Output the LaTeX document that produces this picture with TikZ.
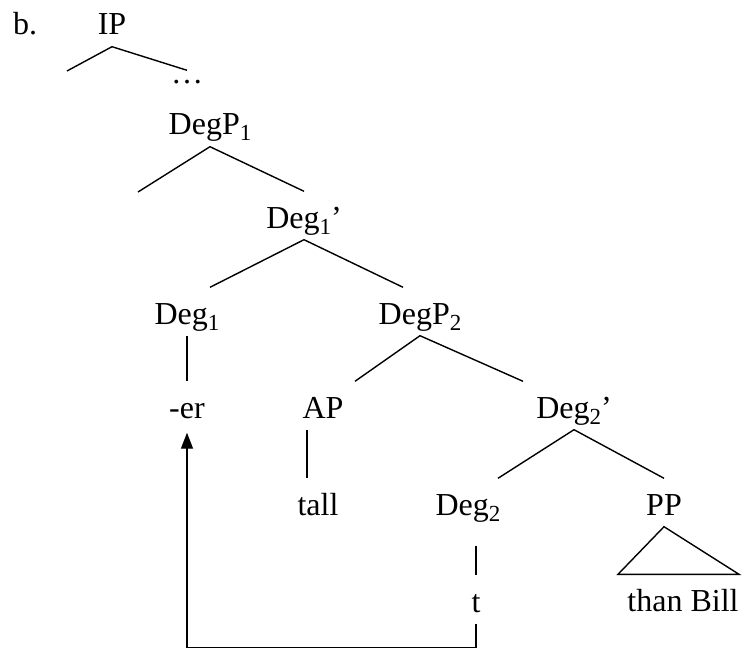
\documentclass[tikz,border=0pt]{standalone}
\usepackage{fontspec}
\setmainfont{Liberation Serif}
\usetikzlibrary{arrows.meta}

% index on a category label, set low as in a word processor
\newcommand{\idx}[1]{\raisebox{-6pt}{\fontsize{23}{23}\selectfont #1}}

\begin{document}
\begin{tikzpicture}[x=1pt, y=-1pt, line width=1.4pt,
    cat/.style={font=\fontsize{32}{38}\selectfont, anchor=base,
        inner xsep=0pt, inner ysep=11pt, text height=25pt, text depth=0pt}]
\useasboundingbox (0,0) rectangle (742,650);

% Labels, row by row
\node[cat] (ex) at (25,35) {b.};
\node[cat] (ip) at (112,35) {IP};
\node[cat, text height=2pt] (dots) at (187,84) {…};
\node[cat] (dpone) at (210,135) {DegP\idx{1}};
\node[cat] (dbarone) at (304,228) {Deg\idx{1}'};
\node[cat] (degone) at (187,324) {Deg\idx{1}};
\node[cat] (dptwo) at (420,324) {DegP\idx{2}};
\node[cat] (er) at (187,418) {-er};
\node[cat] (ap) at (323,418) {AP};
\node[cat] (dbartwo) at (574,418) {Deg\idx{2}'};
\node[cat] (tall) at (318,515) {tall};
\node[cat] (degtwo) at (468,515) {Deg\idx{2}};
\node[cat] (pp) at (664,515) {PP};
\node[cat] (trace) at (476,612) {t};
\node[cat] (than) at (683,611) {than Bill};

% Free ends of the upper branches
\coordinate (ipleft) at (67,71);
\coordinate (dpleft) at (138,192);

% Branches
\draw (ipleft) -- (ip.south) -- (dots.north);
\draw (dpleft) -- (dpone.south) -- (dbarone.north);
\draw ([xshift=23pt]degone.north) -- (dbarone.south) -- ([xshift=-17pt]dptwo.north);
\draw ([xshift=32pt]ap.north) -- (dptwo.south) -- ([xshift=-51pt]dbartwo.north);
\draw ([xshift=30pt]degtwo.north) -- (dbartwo.south) -- (pp.north);
\draw (degone.south) -- (er.north);
\draw ([xshift=-16pt]ap.south) -- ([xshift=-16pt]ap.south |- tall.north);
\draw[shorten <=19pt] (trace.north |- degtwo.south) -- (trace.north);

% Roof over PP
\draw (pp.south) -- ([xshift=-65pt]than.north) -- ([xshift=56pt]than.north) -- cycle;

% Movement of the head
\draw[-{Triangle[length=16pt, width=12pt]}, shorten >=3pt]
    (trace.south) -- ++(0,24) -| (er.south);
\end{tikzpicture}
\end{document}
